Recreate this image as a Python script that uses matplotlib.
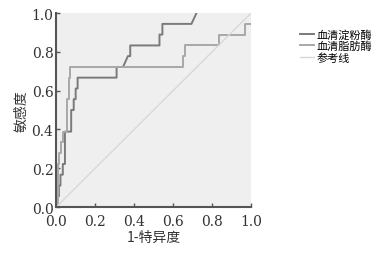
import matplotlib.pyplot as plt

plt.rcParams['font.family'] = ['DejaVu Serif', 'Noto Sans CJK SC']

# ROC staircase points
amylase_fpr = [0, 0, 0.014, 0.014, 0.022, 0.022, 0.034, 0.034, 0.045, 0.045, 0.077, 0.077,
               0.09, 0.09, 0.1, 0.1, 0.11, 0.11, 0.31, 0.31, 0.343, 0.368, 0.38, 0.38,
               0.53, 0.53, 0.545, 0.545, 0.694, 0.72]
amylase_tpr = [0, 0.056, 0.056, 0.111, 0.111, 0.167, 0.167, 0.222, 0.222, 0.389, 0.389, 0.5,
               0.5, 0.556, 0.556, 0.611, 0.611, 0.667, 0.667, 0.722, 0.722, 0.778, 0.778, 0.833,
               0.833, 0.889, 0.889, 0.944, 0.944, 1.0]

lipase_fpr = [0, 0.008, 0.008, 0.017, 0.017, 0.024, 0.024, 0.034, 0.034, 0.058, 0.058,
              0.064, 0.064, 0.068, 0.068, 0.072, 0.072, 0.65, 0.65, 0.66, 0.66,
              0.835, 0.835, 0.97, 0.97, 1.0]
lipase_tpr = [0, 0, 0.222, 0.222, 0.278, 0.278, 0.333, 0.333, 0.389, 0.389, 0.556,
              0.556, 0.611, 0.611, 0.667, 0.667, 0.722, 0.722, 0.778, 0.778, 0.833,
              0.833, 0.889, 0.889, 0.944, 0.944]

ref_line = [0, 1]
ticks = [0, 0.2, 0.4, 0.6, 0.8, 1.0]
tick_labels = ["0.0", "0.2", "0.4", "0.6", "0.8", "1.0"]

cjk = ['Noto Sans CJK SC', 'DejaVu Serif']

fig = plt.figure(figsize=(3.77, 2.55), dpi=100)
ax = fig.add_axes([0.149, 0.184, 0.517, 0.761])
ax.set_facecolor("#efefef")

ax.plot(amylase_fpr, amylase_tpr, color="#7a7a7a", lw=1.4, label="血清淀粉酶")
ax.plot(lipase_fpr, lipase_tpr, color="#a8a8a8", lw=1.4, label="血清脂肪酶")
ax.plot(ref_line, ref_line, color="#d8d8d8", lw=1.0, label="参考线")

ax.set_xlim(0, 1)
ax.set_ylim(0, 1)
ax.set_xticks(ticks)
ax.set_xticklabels(tick_labels)
ax.set_yticks(ticks)
ax.set_yticklabels(tick_labels)
ax.tick_params(direction="in", length=3, width=1, colors="#555555", labelcolor="#333333",
               labelsize=10)
ax.tick_params(axis="x", pad=5)
ax.tick_params(axis="y", pad=2)

for s in ["top", "right"]:
    ax.spines[s].set_visible(False)
for s in ["left", "bottom"]:
    ax.spines[s].set_color("#555555")
    ax.spines[s].set_linewidth(1.5)

ax.set_xlabel("1-特异度", fontsize=10, color="#333333", family=cjk, labelpad=1)
ax.set_ylabel("敏感度", fontsize=10, color="#333333", family=cjk, labelpad=2)

fig.legend(loc="upper left", bbox_to_anchor=(0.78, 0.905), frameon=False,
           prop={'family': ['Noto Sans CJK SC'], 'size': 8},
           handlelength=1.3, handletextpad=0.2, labelspacing=0.1, borderpad=0)

fig.savefig("out.png", dpi=100)
